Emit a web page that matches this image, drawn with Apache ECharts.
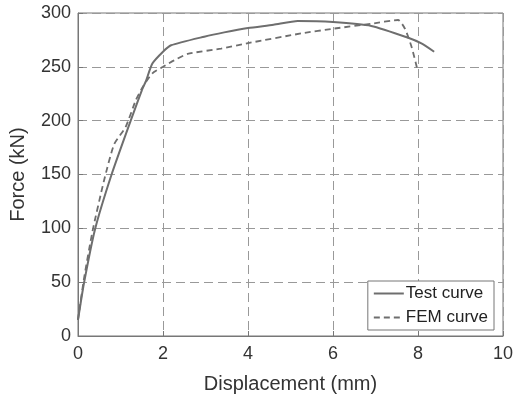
<!DOCTYPE html>
<html>
<head>
<meta charset="utf-8">
<script src="https://cdn.jsdelivr.net/npm/echarts@6/dist/echarts.min.js"></script>
<style>
  html, body { margin: 0; padding: 0; background: #fff; }
  #chart { width: 520px; height: 399px; }
</style>
</head>
<body>
<div id="chart"></div>
<script>
// values
const testX = [0, 0.14, 0.4, 0.79, 1.24, 1.5, 1.6, 1.75, 2.0, 2.19, 2.97, 3.44, 4.0, 4.6, 5.17, 6.0, 6.9, 7.77, 8.08, 8.38];
const testY = [15, 49, 99, 150, 200, 228, 237, 253, 264, 270, 278, 282, 286, 289, 292.5, 291.6, 288, 277, 271.7, 264];
const femX = [0, 0.14, 0.34, 0.61, 0.85, 1.12, 1.36, 1.52, 1.75, 2.0, 2.26, 2.58, 3.37, 4.0, 5.25, 6.04, 6.9, 7.53, 7.69, 7.85, 7.99];
const femY = [15, 53, 97, 144, 178, 194, 219, 231, 244, 250, 256, 262, 267, 272, 281, 285.6, 290, 293.5, 285.6, 268.5, 246.7];
const seriesNames = ["Test curve", "FEM curve"];

const zip = (xs, ys) => xs.map((x, i) => [x, ys[i]]);

const axisColor = "#777";
const textColor = "#333";
const font = "Liberation Sans";

const chart = echarts.init(document.getElementById("chart"), null, { renderer: "canvas" });
chart.setOption({
  animation: false,
  backgroundColor: "#fff",
  textStyle: { fontFamily: font },
  grid: { left: 77, right: 17, top: 13, bottom: 63, show: true, borderColor: axisColor, borderWidth: 1 },
  legend: {
    data: seriesNames,
    orient: "vertical",
    right: 26,
    bottom: 69,
    backgroundColor: "#fff",
    borderColor: axisColor,
    borderWidth: 1,
    borderRadius: 0,
    padding: [4, 6, 4, 5],
    itemWidth: 30,
    itemHeight: 14,
    itemGap: 7,
    itemStyle: { opacity: 0 },
    textStyle: { fontFamily: font, fontSize: 17, color: "#222", padding: [0, 0, 0, -3] },
  },
  xAxis: {
    type: "value",
    min: 0,
    max: 10,
    interval: 2,
    name: "Displacement (mm)",
    nameLocation: "middle",
    nameGap: 38,
    nameTextStyle: { fontSize: 20, color: textColor, fontFamily: font },
    axisLine: { onZero: false, lineStyle: { color: axisColor } },
    axisTick: { inside: true, length: 5, lineStyle: { color: axisColor } },
    axisLabel: { fontSize: 18, color: textColor, margin: 9, fontFamily: font },
    splitLine: { show: true, lineStyle: { color: "#999", type: [9, 5], width: 1 } },
  },
  yAxis: {
    type: "value",
    min: 0,
    max: 300,
    interval: 50,
    name: "Force (kN)",
    nameLocation: "middle",
    nameGap: 50,
    nameTextStyle: { fontSize: 20, color: textColor, fontFamily: font },
    axisLine: { onZero: false, lineStyle: { color: axisColor } },
    axisTick: { inside: true, length: 5, lineStyle: { color: axisColor } },
    axisLabel: { fontSize: 18, color: textColor, margin: 7, fontFamily: font },
    splitLine: { show: true, lineStyle: { color: "#999", type: [9, 5], width: 1 } },
  },
  series: [
    {
      name: seriesNames[0],
      type: "line",
      data: zip(testX, testY),
      symbol: "none",
      smooth: 0.2,
      lineStyle: { color: "#6e6e6e", width: 2 },
      itemStyle: { color: "#6e6e6e" },
    },
    {
      name: seriesNames[1],
      type: "line",
      data: zip(femX, femY),
      symbol: "none",
      smooth: 0.2,
      lineStyle: { color: "#6e6e6e", width: 1.8, type: [6, 4] },
      itemStyle: { color: "#6e6e6e" },
    },
  ],
});
</script>
</body>
</html>
